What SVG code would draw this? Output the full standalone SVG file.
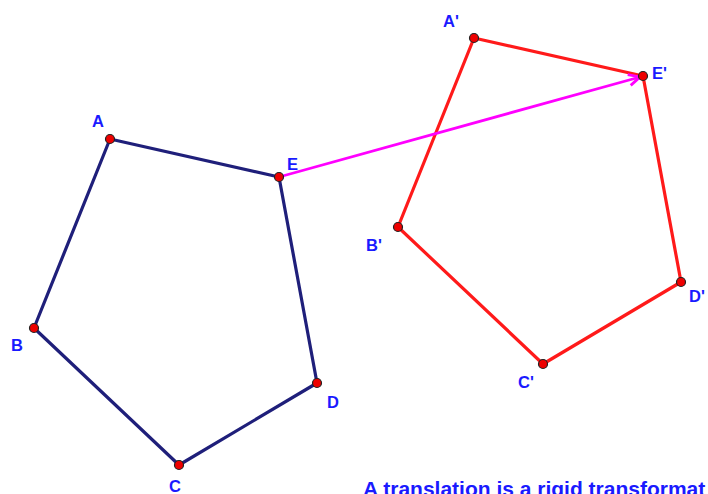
<svg xmlns="http://www.w3.org/2000/svg" width="708" height="494" viewBox="0 0 708 494">
<style>
.blue{fill:none;stroke:#1f1f7a;stroke-width:3.2;stroke-linejoin:round;stroke-linecap:round}
.red{fill:none;stroke:#ff1a1a;stroke-width:3.2;stroke-linejoin:round;stroke-linecap:round}
.vec{fill:none;stroke:#ff00ff;stroke-width:2.8}
.pt{fill:#ee0000;stroke:#222;stroke-width:1.2}
.lbl{font-family:"Liberation Sans",Arial,sans-serif;font-weight:bold;font-size:16.5px;fill:#1a1aff}
.cap{font-family:"Liberation Sans",Arial,sans-serif;font-weight:bold;font-size:21px;fill:#1a1aff}
</style>
<defs>
<marker id="arr" viewBox="0 0 10 10" refX="9" refY="5" markerWidth="5" markerHeight="5" orient="auto" markerUnits="strokeWidth">
<path d="M1,1 L9,5 L1,9" fill="none" stroke="#ff00ff" stroke-width="2"/>
</marker>
</defs>
<rect width="708" height="494" fill="#ffffff"/>
<g id="connectors">
<polygon class="blue" points="110,139 279,177 317,383 179,465 34,328"/>
<polygon class="red" points="474,38 643,76 681,282 543,364 398,227"/>
<line class="vec" x1="279" y1="177" x2="640" y2="77" marker-end="url(#arr)"/>
</g>
<g id="A"><circle class="pt" cx="110" cy="139" r="4.5"/><text class="lbl" x="92" y="127">A</text></g>
<g id="B"><circle class="pt" cx="34" cy="328" r="4.5"/><text class="lbl" x="11" y="351">B</text></g>
<g id="C"><circle class="pt" cx="179" cy="465" r="4.5"/><text class="lbl" x="169" y="492">C</text></g>
<g id="D"><circle class="pt" cx="317" cy="383" r="4.5"/><text class="lbl" x="327" y="408">D</text></g>
<g id="E"><circle class="pt" cx="279" cy="177" r="4.5"/><text class="lbl" x="287" y="170">E</text></g>
<g id="A2"><circle class="pt" cx="474" cy="38" r="4.5"/><text class="lbl" x="443" y="27">A'</text></g>
<g id="B2"><circle class="pt" cx="398" cy="227" r="4.5"/><text class="lbl" x="366" y="251">B'</text></g>
<g id="C2"><circle class="pt" cx="543" cy="364" r="4.5"/><text class="lbl" x="518" y="388">C'</text></g>
<g id="D2"><circle class="pt" cx="681" cy="282" r="4.5"/><text class="lbl" x="689" y="302">D'</text></g>
<g id="E2"><circle class="pt" cx="643" cy="76" r="4.5"/><text class="lbl" x="652" y="79">E'</text></g>
<text class="cap" x="363" y="496">A translation is a rigid transformat</text>
</svg>
